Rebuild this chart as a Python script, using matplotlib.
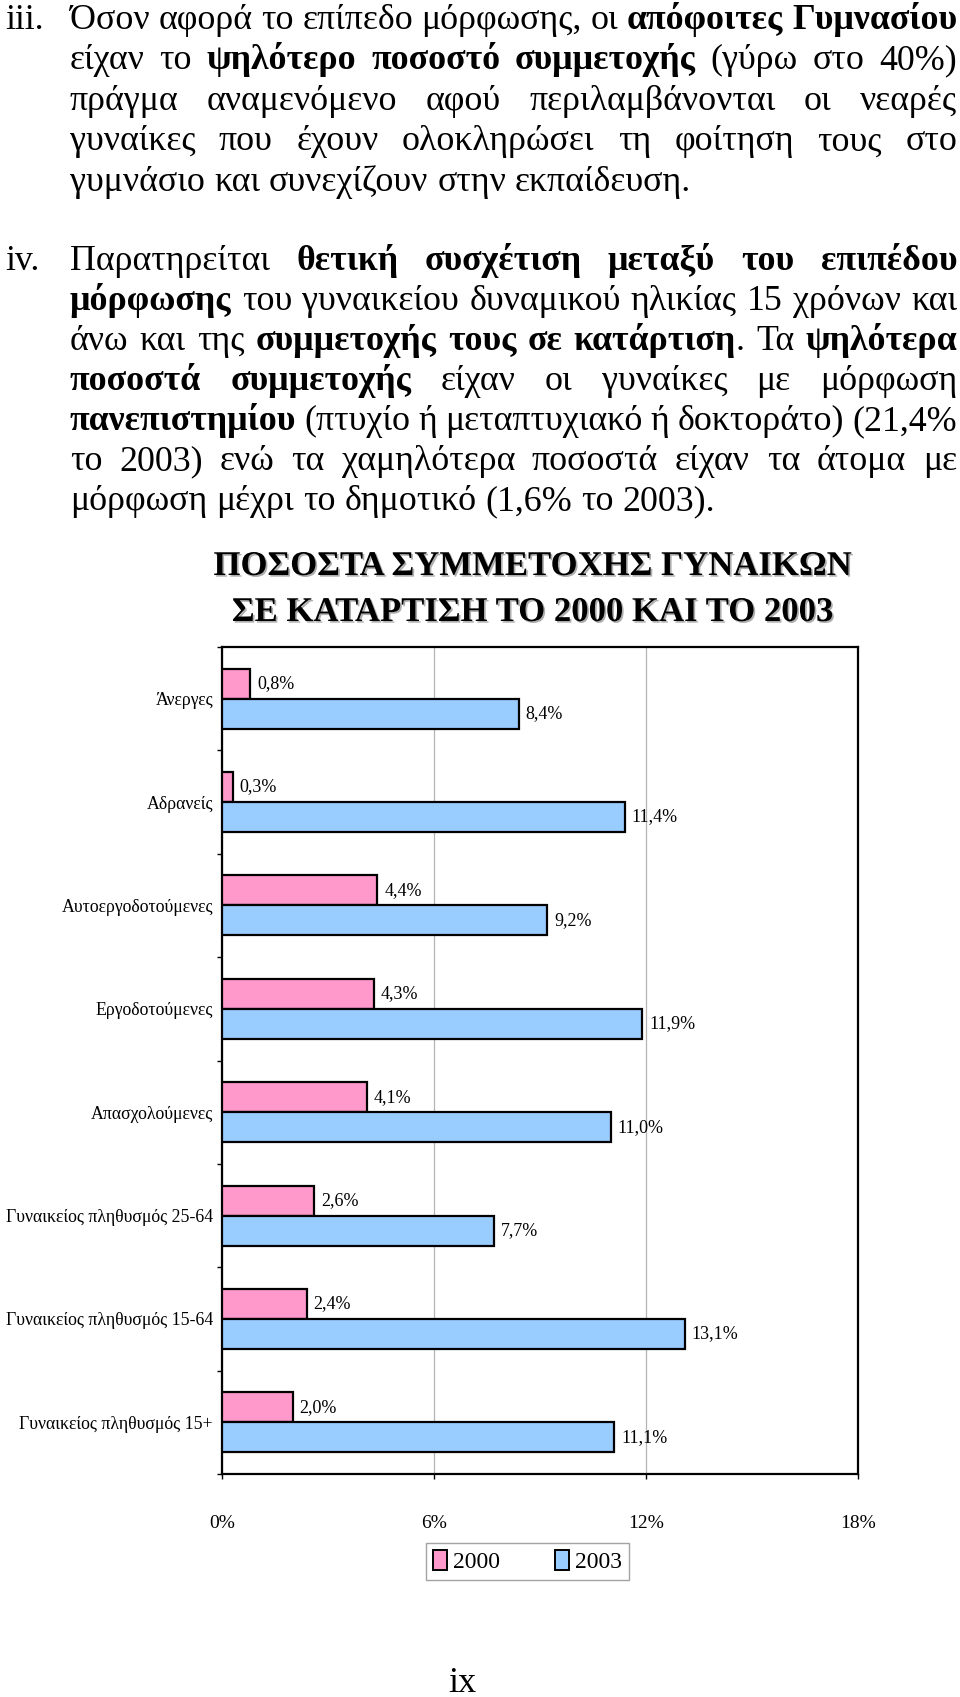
import matplotlib
matplotlib.use("Agg")
import matplotlib.pyplot as plt
import matplotlib.patheffects as pe
from matplotlib.patches import Patch
import numpy as np

plt.rcParams["font.family"] = ["Liberation Serif", "DejaVu Serif"]

W, H = 960, 1697

# chart data
categories = ["Άνεργες", "Αδρανείς", "Αυτοεργοδοτούμενες", "Εργοδοτούμενες",
              "Απασχολούμενες", "Γυναικείος πληθυσμός 25-64",
              "Γυναικείος πληθυσμός 15-64", "Γυναικείος πληθυσμός 15+"]
vals_2000 = [0.8, 0.3, 4.4, 4.3, 4.1, 2.6, 2.4, 2.0]
vals_2003 = [8.4, 11.4, 9.2, 11.9, 11.0, 7.7, 13.1, 11.1]
years = ["2000", "2003"]
x_ticks = [0, 6, 12, 18]

title_lines = ["ΠΟΣΟΣΤΑ ΣΥΜΜΕΤΟΧΗΣ ΓΥΝΑΙΚΩΝ",
               "ΣΕ ΚΑΤΑΡΤΙΣΗ ΤΟ 2000 ΚΑΙ ΤΟ 2003"]

# body text, ** marks bold
para_iii = [
    "Όσον αφορά το επίπεδο μόρφωσης, οι **απόφοιτες Γυμνασίου**",
    "είχαν το **ψηλότερο ποσοστό συμμετοχής** (γύρω στο 40%)",
    "πράγμα αναμενόμενο αφού περιλαμβάνονται οι νεαρές",
    "γυναίκες που έχουν ολοκληρώσει τη φοίτηση τους στο",
    "γυμνάσιο και συνεχίζουν στην εκπαίδευση.",
]
para_iv = [
    "Παρατηρείται **θετική συσχέτιση μεταξύ του επιπέδου**",
    "**μόρφωσης** του γυναικείου δυναμικού ηλικίας 15 χρόνων και",
    "άνω και της **συμμετοχής τους σε κατάρτιση**. Τα **ψηλότερα**",
    "**ποσοστά συμμετοχής** είχαν οι γυναίκες με μόρφωση",
    "**πανεπιστημίου** (πτυχίο ή μεταπτυχιακό ή δοκτοράτο) (21,4%",
    "το 2003) ενώ τα χαμηλότερα ποσοστά είχαν τα άτομα με",
    "μόρφωση μέχρι το δημοτικό (1,6% το 2003).",
]

fig = plt.figure(figsize=(W / 100, H / 100), dpi=100)
renderer = fig.canvas.get_renderer()


def fy(ypx):
    return 1 - ypx / H


def parse(line):
    words, cur, buf, bold, i = [], [], "", False, 0
    while i < len(line):
        if line.startswith("**", i):
            if buf:
                cur.append((buf, bold))
                buf = ""
            bold = not bold
            i += 2
            continue
        c = line[i]
        if c == " ":
            if buf:
                cur.append((buf, bold))
                buf = ""
            if cur:
                words.append(cur)
                cur = []
        else:
            buf += c
        i += 1
    if buf:
        cur.append((buf, bold))
    if cur:
        words.append(cur)
    return words


def paragraph(label, lines, base, left=70, right=957, step=40.4, size=25.8):
    fig.text(5 / W, fy(base), label, fontsize=size, va="baseline")
    t1 = fig.text(0, 0, "a a", fontsize=size)
    t2 = fig.text(0, 0, "aa", fontsize=size)
    space = t1.get_window_extent(renderer).width - t2.get_window_extent(renderer).width
    t1.remove()
    t2.remove()
    for k, line in enumerate(lines):
        y = base + k * step
        items = []
        for w in parse(line):
            pieces = []
            for s, b in w:
                t = fig.text(0, fy(y), s, fontsize=size, va="baseline",
                             weight="bold" if b else "normal")
                pieces.append((t, t.get_window_extent(renderer).width))
            items.append(pieces)
        widths = [sum(p[1] for p in pieces) for pieces in items]
        if k < len(lines) - 1 and len(items) > 1:
            gap = (right - left - sum(widths)) / (len(items) - 1)
        else:
            gap = space
        x = left
        for pieces, wd in zip(items, widths):
            xx = x
            for t, pw in pieces:
                t.set_x(xx / W)
                xx += pw
            x += wd + gap


paragraph("iii.", para_iii, 29)
paragraph("iv.", para_iv, 270, step=40.0)

# title with shadow
for k, s in enumerate(title_lines):
    fig.text(533 / W, fy(575 + k * 46), s, fontsize=25, weight="bold",
             ha="center", va="baseline",
             path_effects=[pe.withSimplePatchShadow(offset=(1.2, -1.2),
                                                     shadow_rgbFace="0.55",
                                                     alpha=0.7)])

# chart
ax = fig.add_axes([222 / W, fy(1474), (858 - 222) / W, (1474 - 647) / H])
y = np.arange(len(categories))
h = 0.29
b1 = ax.barh(y - h / 2, vals_2000, height=h, color="#ff99cc",
             edgecolor="black", linewidth=1.6, label=years[0], zorder=3)
b2 = ax.barh(y + h / 2, vals_2003, height=h, color="#99ccff",
             edgecolor="black", linewidth=1.6, label=years[1], zorder=3)

for bars, vals in ((b1, vals_2000), (b2, vals_2003)):
    ax.bar_label(bars, labels=[f"{v:.1f}%".replace(".", ",") for v in vals],
                 padding=5, fontsize=13)

ax.set_xlim(0, 18)
ax.set_ylim(len(categories) - 0.5, -0.5)
ax.set_xticks(x_ticks)
ax.set_xticklabels([f"{v}%" for v in x_ticks])
ax.set_yticks(y)
ax.set_yticklabels(categories)
ax.set_yticks(np.arange(len(categories) + 1) - 0.5, minor=True)
ax.tick_params(axis="y", which="major", length=0, pad=6.5, labelsize=12.8)
ax.tick_params(axis="y", which="minor", length=3.5, width=1)
ax.tick_params(axis="x", length=3.5, width=1, pad=26, labelsize=14)
ax.xaxis.grid(True, color="#b4b4b4", lw=0.9)
ax.set_axisbelow(True)
for s in ax.spines.values():
    s.set_linewidth(1.6)

handles = [Patch(facecolor="#ff99cc", edgecolor="black", lw=1.4, label=years[0]),
           Patch(facecolor="#99ccff", edgecolor="black", lw=1.4, label=years[1])]
leg = ax.legend(handles=handles, loc="center",
                bbox_to_anchor=(527.5 / W, fy(1561.5)),
                bbox_transform=fig.transFigure, ncol=2, frameon=True,
                fancybox=False, edgecolor="#8c8c8c", fontsize=17,
                handlelength=0.6, handleheight=0.9, handletextpad=0.25,
                columnspacing=2.3, borderpad=0.3)
leg.get_frame().set_linewidth(1)

fig.text(462 / W, fy(1692), "ix", fontsize=26, ha="center", va="baseline")

fig.savefig("out.png", dpi=100)
